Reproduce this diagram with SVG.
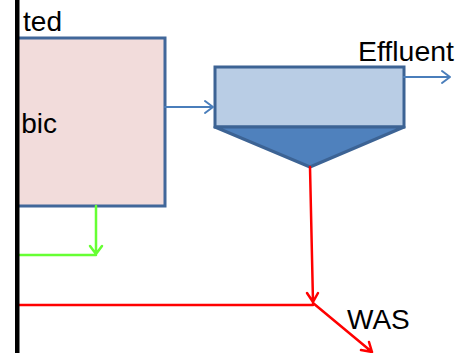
<svg xmlns="http://www.w3.org/2000/svg" width="462" height="353" viewBox="0 0 462 353">
  <style>
    .lbl { font-family: "Liberation Sans", Arial, sans-serif; font-size: 28px; fill: #000; }
    .blue { stroke: #4A7EBB; stroke-width: 2; fill: none; }
    .red { stroke: #FF0000; stroke-width: 2.5; fill: none; }
    .green { stroke: #66FF33; stroke-width: 2.5; fill: none; }
  </style>
  <rect width="462" height="353" fill="#FFFFFF"/>

  <!-- aerobic tank -->
  <g id="aerobic-tank">
    <rect x="17" y="38" width="148" height="168" fill="#F2DCDB" stroke="#41679A" stroke-width="3"/>
    <text class="lbl" x="57" y="133" text-anchor="end">bic</text>
  </g>

  <!-- secondary clarifier -->
  <g id="clarifier">
    <rect x="215" y="67" width="189" height="60" fill="#B9CDE5" stroke="#3C6394" stroke-width="3"/>
    <polygon points="215,127 404,127 310,167" fill="#4F81BD" stroke="#3C6394" stroke-width="3" stroke-linejoin="round"/>
  </g>

  <g id="labels">
    <text class="lbl" x="62" y="31" text-anchor="end">ted</text>
    <text class="lbl" x="358" y="61" textLength="96" lengthAdjust="spacingAndGlyphs">Effluent</text>
    <text class="lbl" x="347" y="329">WAS</text>
  </g>

  <g id="connectors" stroke-linecap="round" stroke-linejoin="round">
    <!-- tank to clarifier -->
    <path class="blue" d="M165,107 H213 M205,101 L213,107 L205,113"/>
    <!-- effluent -->
    <path class="blue" d="M404,77 H450 M442,71 L450,77 L442,83"/>
    <!-- sludge draw-off -->
    <path class="red" d="M310,167 L313,302 M307,293 L313,302 L318,293"/>
    <!-- return line -->
    <path class="red" d="M19,305 H313"/>
    <!-- waste sludge -->
    <path class="red" d="M313,303 L372,352 M361,350 L372,352 L369,342"/>
    <!-- recycle -->
    <path class="green" d="M96,206 V254 M90,246 L96,254 L102,246 M96,255 H19"/>
  </g>

  <!-- tank wall -->
  <rect x="15" y="0" width="4.5" height="353" fill="#000000"/>
</svg>
